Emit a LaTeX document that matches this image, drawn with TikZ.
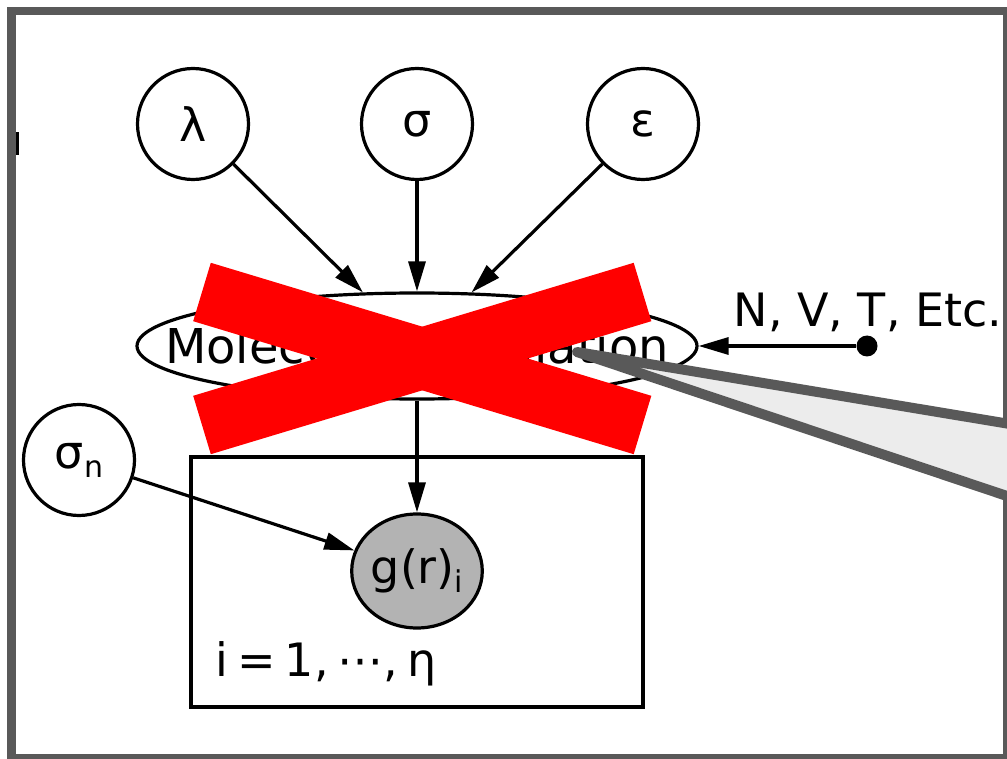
\documentclass[tikz,border=0pt]{standalone}
\usepackage{fontspec}
\setmainfont{DejaVu Sans}
\usetikzlibrary{shapes.geometric,arrows.meta,positioning}
\definecolor{framegray}{RGB}{89,89,89}
\definecolor{wedgegray}{RGB}{236,236,236}
\definecolor{obsgray}{RGB}{179,179,179}
\newcommand{\bigfont}{\fontsize{46}{55}\selectfont}
\newcommand{\simfont}{\fontsize{48}{57}\selectfont}
\newcommand{\subfont}{\fontsize{30}{36}\selectfont}

\begin{document}
\begin{tikzpicture}[x=1pt, y=-1pt,
    param/.style={draw, circle, line width=3.2pt, minimum size=111pt,
                  inner sep=0pt, font=\bigfont},
    observed/.style={draw, ellipse, line width=3.2pt, fill=obsgray,
                     minimum width=124pt, minimum height=114pt, inner sep=0pt, font=\bigfont},
    sim/.style={draw, ellipse, line width=3.2pt, minimum width=560pt,
                minimum height=106pt, inner sep=0pt, font=\simfont},
    arr/.style={-{Triangle[length=30pt,width=17pt]}, line width=3.2pt}
]
\useasboundingbox (0,0) rectangle (1007,759);
\clip (0,0) rectangle (1007,759);

% Frame
\draw[framegray, line width=8.5pt] (11.5,11) rectangle (1007,758);
\fill (16,132) rectangle (18.5,155);

% Parameters
\node[param] (lambda) at (193,124) {λ};
\node[param] (sigma) at (417,124) {σ};
\node[param] (eps) at (643,124) {ε};
\node[param] (sigman) at (79,460) {σ{\subfont\raisebox{-9pt}{n}}};

% Simulation
\node[sim] (sim) at (417,346) {\makebox[0pt]{Molecular Simulation}};
\node[circle, fill, minimum size=21pt, inner sep=0pt] (dot) at (867,346) {};
\node[font=\bigfont, anchor=base] (ens) at (868,327) {N, V, T, Etc.};

% Plate
\node[draw, line width=3.2pt, minimum width=452pt, minimum height=250pt,
      inner sep=0pt] (plate) at (417,582) {};
\node[observed] (g) at (417,571) {g(r){\subfont\raisebox{-9pt}{i}}};
\node[font=\bigfont, anchor=base west] (idx) at (212,676)
  {i\hspace{9pt}=\hspace{9pt}1,\hspace{9pt}⋯,\hspace{9pt}η};

% Arrows
\foreach \p in {lambda,sigma,eps} {
  \draw[arr] (\p) -- (sim);
}
\draw[arr] (dot) -- (sim);
\draw[arr] (sim) -- (g);
\draw[arr] (sigman) -- (g);

% Callout
\filldraw[fill=wedgegray, draw=framegray, line width=10pt, line join=round]
  (1050,430.7) -- (577,352) -- (1050,510.4);

% Cross
\draw[red, line width=61pt] (202,292) -- (642.5,425);
\draw[red, line width=61pt] (202,425) -- (642.5,292);

\end{tikzpicture}
\end{document}
